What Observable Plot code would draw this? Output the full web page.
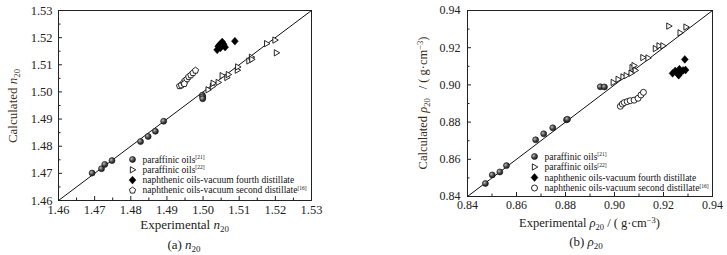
<!DOCTYPE html>
<html><head><meta charset="utf-8">
<script src="https://cdn.jsdelivr.net/npm/d3@7"></script>
<script src="https://cdn.jsdelivr.net/npm/@observablehq/plot@0.6"></script>
<style>
body{margin:0;background:#fff;}
#wrap{position:relative;width:727px;height:255px;font-family:"Liberation Serif","Times New Roman",serif;color:#222;overflow:hidden;}
#a{position:absolute;left:0;top:0;}
#b{position:absolute;left:360px;top:0;}
.cap{position:absolute;font-size:13px;line-height:13px;text-align:center;width:200px;white-space:nowrap;}
.cap sub{font-size:9px;vertical-align:-3px;line-height:0;}
</style></head><body>
<div id="wrap"><div id="a"></div><div id="b"></div>
<div class="cap" style="left:84px;top:238px">(a) <i>n</i><sub>20</sub></div>
<div class="cap" style="left:486px;top:235px">(b) <i>ρ</i><sub>20</sub></div>
</div>
<script>
// ---------- Panel (a): refractive index n20 ----------
const nTicks = [1.46, 1.47, 1.48, 1.49, 1.50, 1.51, 1.52, 1.53];
const nMinor = [1.465, 1.475, 1.485, 1.495, 1.505, 1.515, 1.525];
const nPar21Exp = [1.4693, 1.4719, 1.4728, 1.4748, 1.4827, 1.4848, 1.4868, 1.4891, 1.4998, 1.4999, 1.4999];
const nPar21Cal = [1.4701, 1.4717, 1.4733, 1.4747, 1.4817, 1.4836, 1.4855, 1.4892, 1.4988, 1.4982, 1.4975];
const nPar22Exp = [1.5014, 1.5026, 1.5028, 1.5042, 1.5053, 1.5066, 1.5070, 1.5095, 1.5096, 1.5127, 1.5134, 1.5135, 1.5176, 1.5199, 1.5203];
const nPar22Cal = [1.5008, 1.5020, 1.5032, 1.5035, 1.5060, 1.5053, 1.5064, 1.5080, 1.5092, 1.5114, 1.5128, 1.5120, 1.5178, 1.5191, 1.5144];
const nNap4Exp = [1.5039, 1.5042, 1.5046, 1.5050, 1.5053, 1.5057, 1.5061, 1.5048, 1.5088];
const nNap4Cal = [1.5155, 1.5168, 1.5174, 1.5178, 1.5184, 1.5176, 1.5165, 1.5162, 1.5187];
const nNap2Exp = [1.4935, 1.4940, 1.4946, 1.4950, 1.4955, 1.4960, 1.4966, 1.4972, 1.4979, 1.4948];
const nNap2Cal = [1.5022, 1.5025, 1.5034, 1.5042, 1.5047, 1.5056, 1.5062, 1.5070, 1.5079, 1.5030];

// ---------- Panel (b): density rho20 ----------
const rTicks = [0.84, 0.86, 0.88, 0.90, 0.92, 0.94];
const rMinor = [0.85, 0.87, 0.89, 0.91, 0.93];
const rPar21Exp = [0.8473, 0.8501, 0.8532, 0.8559, 0.8678, 0.8711, 0.8748, 0.8804, 0.8808, 0.8942, 0.8959];
const rPar21Cal = [0.8470, 0.8516, 0.8532, 0.8566, 0.8705, 0.8737, 0.8769, 0.8812, 0.8815, 0.8990, 0.8989];
const rPar22Exp = [0.8995, 0.9015, 0.9035, 0.9048, 0.9068, 0.9072, 0.9080, 0.9085, 0.9116, 0.9137, 0.9167, 0.9182, 0.9198, 0.9222, 0.9268, 0.9292];
const rPar22Cal = [0.9013, 0.9030, 0.9043, 0.9050, 0.9063, 0.9093, 0.9104, 0.9078, 0.9147, 0.9145, 0.9195, 0.9210, 0.9210, 0.9316, 0.9280, 0.9311];
const rNap4Exp = [0.9237, 0.9248, 0.9258, 0.9265, 0.9272, 0.9280, 0.9290, 0.9262, 0.9287];
const rNap4Cal = [0.9062, 0.9075, 0.9060, 0.9085, 0.9070, 0.9078, 0.9080, 0.9052, 0.9137];
const rNap2Exp = [0.9024, 0.9032, 0.9040, 0.9052, 0.9064, 0.9080, 0.9096, 0.9108, 0.9118];
const rNap2Cal = [0.8885, 0.8897, 0.8905, 0.8910, 0.8915, 0.8918, 0.8928, 0.8946, 0.8960];

const legendLabels = ["paraffinic oils", "paraffinic oils", "naphthenic oils-vacuum fourth distillate", "naphthenic oils-vacuum second distillate"];
const legendRefs = ["[21]", "[22]", "", "[16]"];

const FONT = '"Liberation Serif", "Times New Roman", serif';

// custom symbols
const rightTri = {draw(ctx, size){ const r = Math.sqrt(size/Math.PI)*1.1; ctx.moveTo(r,0); ctx.lineTo(-r*0.65,-r*0.95); ctx.lineTo(-r*0.65,r*0.95); ctx.closePath(); }};
const pentagon = {draw(ctx, size){ const r = Math.sqrt(size/Math.PI)*1.1; for(let k=0;k<5;k++){ const a=-Math.PI/2+k*2*Math.PI/5; const x=r*Math.cos(a), y=r*Math.sin(a); if(k===0) ctx.moveTo(x,y); else ctx.lineTo(x,y);} ctx.closePath(); }};
const diamond = {draw(ctx, size){ const r = Math.sqrt(size/Math.PI); ctx.moveTo(0,-r*1.3); ctx.lineTo(r*1.15,0); ctx.lineTo(0,r*1.3); ctx.lineTo(-r*1.15,0); ctx.closePath(); }};

const zip = (xs, ys) => xs.map((x,i) => ({x, y: ys[i]}));

function panel(cfg){
  const {width, height, ml, mr, mt, mb, ticks, minor, fmt, fontSize, sets, symbols, legendDx, legendDy, legendStep, textGap, padX, padY} = cfg;
  const iw = width - ml - mr, ih = height - mt - mb;
  const dom = [ticks[0], ticks[ticks.length-1]];
  const styles = [
    {fill: "url(#ball)", stroke: "#111", strokeWidth: 0.6, r: 3},
    {fill: "white", stroke: "#111", strokeWidth: 0.9, r: 3},
    {fill: "#000", stroke: "#000", strokeWidth: 0.5, r: 3},
    {fill: "white", stroke: "#111", strokeWidth: 0.9, r: 3}
  ];
  const marks = [
    Plot.frame({stroke: "#222", strokeWidth: 1}),
    Plot.tickX(ticks, {x: d => d, insetTop: ih - 4, stroke: "#222"}),
    Plot.tickX(minor, {x: d => d, insetTop: ih - 2.5, stroke: "#222"}),
    Plot.tickY(ticks, {y: d => d, insetRight: iw - 4, stroke: "#222"}),
    Plot.tickY(minor, {y: d => d, insetRight: iw - 2.5, stroke: "#222"}),
    Plot.axisX({ticks, tickSize: 0, tickPadding: padX, tickFormat: fmt, fontSize, label: null}),
    Plot.axisY({ticks, tickSize: 0, tickPadding: padY, tickFormat: fmt, fontSize, label: null}),
    Plot.line(dom.map(v => ({x: v, y: v})), {x: "x", y: "y", stroke: "#111", strokeWidth: 1})
  ];
  sets.forEach((s, i) => {
    marks.push(Plot.dot(s, {x: "x", y: "y", symbol: symbols[i], ...styles[i]}));
  });
  legendLabels.forEach((lab, i) => {
    marks.push(Plot.dot([0], {frameAnchor: "top-left", dx: legendDx, dy: legendDy + i*legendStep, symbol: symbols[i], ...styles[i]}));
    marks.push(Plot.text([lab], {text: d => d, frameAnchor: "top-left", dx: legendDx + textGap, dy: legendDy + i*legendStep, textAnchor: "start", lineAnchor: "middle", fontSize: 9.5, fill: "#111"}));
  });
  const svg = Plot.plot({
    width, height, marginLeft: ml, marginRight: mr, marginTop: mt, marginBottom: mb,
    x: {domain: dom, label: null},
    y: {domain: dom, label: null},
    style: {fontSize: fontSize + "px", color: "#222", background: "transparent", overflow: "visible"},
    marks
  });
  const s = d3.select(svg);
  s.style("font-family", FONT);
  s.selectAll("g").style("font-family", FONT);
  s.selectAll("text").style("font-family", FONT);
  const defs = s.insert("defs", ":first-child");
  const g = defs.append("radialGradient").attr("id", "ball").attr("cx", "35%").attr("cy", "35%").attr("r", "65%");
  g.append("stop").attr("offset", "0%").attr("stop-color", "#bbb");
  g.append("stop").attr("offset", "60%").attr("stop-color", "#444");
  g.append("stop").attr("offset", "100%").attr("stop-color", "#222");
  // superscript references on legend entries, in order
  let k = 0;
  s.selectAll("text").nodes().forEach(node => {
    if (k < legendLabels.length && node.textContent === legendLabels[k]) {
      if (legendRefs[k]) d3.select(node).append("tspan").attr("dy", -3.5).attr("font-size", "5.5px").text(legendRefs[k]);
      k++;
    }
  });
  return svg;
}

function addRich(svg, x, y, rotate, parts, fontSize, fill){
  const t = d3.select(svg).append("text")
    .attr("transform", `translate(${x},${y})` + (rotate ? ` rotate(${rotate})` : ""))
    .attr("text-anchor", "middle").attr("font-size", fontSize + "px").attr("fill", fill)
    .style("font-family", FONT);
  let shift = 0;
  parts.forEach(p => {
    const ts = t.append("tspan").text(p.t);
    let target = p.sub ? 3 : p.sup ? -4.5 : 0;
    if (target !== shift) { ts.attr("dy", target - shift); shift = target; }
    if (p.sub || p.sup) ts.attr("font-size", (fontSize*0.68) + "px");
    if (p.it) ts.attr("font-style", "italic");
    if (p.dx) ts.attr("dx", p.dx);
  });
}

const fmt2 = d3.format(".2f");

const svgA = panel({
  width: 360, height: 236, ml: 58, mr: 49, mt: 10, mb: 36,
  ticks: nTicks, minor: nMinor, fmt: fmt2, fontSize: 12.5,
  sets: [zip(nPar21Exp, nPar21Cal), zip(nPar22Exp, nPar22Cal), zip(nNap4Exp, nNap4Cal), zip(nNap2Exp, nNap2Cal)],
  symbols: ["circle", rightTri, diamond, pentagon],
  legendDx: 74, legendDy: 149, legendStep: 10.3, textGap: 10, padX: 5, padY: 6
});
addRich(svgA, 184.5, 229, 0, [{t: "Experimental "}, {t: "n", it: true}, {t: "20", sub: true}], 13, "#222");
addRich(svgA, 17, 106, -90, [{t: "Calculated "}, {t: "n", it: true}, {t: "20", sub: true}], 13, "#3a2c20");
document.getElementById("a").appendChild(svgA);

const svgB = panel({
  width: 367, height: 236, ml: 107, mr: 15, mt: 10, mb: 40,
  ticks: rTicks, minor: rMinor, fmt: fmt2, fontSize: 12,
  sets: [zip(rPar21Exp, rPar21Cal), zip(rPar22Exp, rPar22Cal), zip(rNap4Exp, rNap4Cal), zip(rNap2Exp, rNap2Cal)],
  symbols: ["circle", rightTri, diamond, "circle"],
  legendDx: 67, legendDy: 146, legendStep: 10.5, textGap: 10, padX: 4, padY: 7
});
addRich(svgB, 229.5, 227, 0, [{t: "Experimental "}, {t: "ρ", it: true}, {t: "20", sub: true}, {t: " / ( g·cm"}, {t: "−3", sup: true}, {t: ")"}], 12.5, "#222");
addRich(svgB, 67, 103, -90, [{t: "Calculated "}, {t: "ρ", it: true}, {t: "20", sub: true}, {t: "/ ( g·cm", dx: 9}, {t: "−3", sup: true}, {t: ")"}], 12.5, "#3a2c20");
document.getElementById("b").appendChild(svgB);
</script>
</body></html>
